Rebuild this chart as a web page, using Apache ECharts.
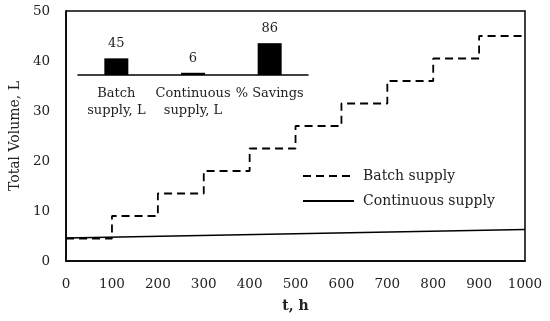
<!DOCTYPE html>
<html>
<head>
<meta charset="utf-8">
<script src="https://cdn.jsdelivr.net/npm/echarts@6/dist/echarts.min.js"></script>
<style>html,body{margin:0;padding:0;background:#fff}#c{width:550px;height:321px}</style>
</head>
<body>
<div id="c"></div>
<script>
// Main chart data
var batchT = [0, 100, 200, 300, 400, 500, 600, 700, 800, 900, 1000];
var batchV = [4.5, 9.0, 13.5, 18.0, 22.5, 27.0, 31.5, 36.0, 40.5, 45.0, 45.0];
var contT = [0, 1000];
var contV = [4.6, 6.3];
// Inset bar data
var insetCats = ['Batch\nsupply, L', 'Continuous\nsupply, L', '% Savings'];
var insetVals = [45, 6, 86];
var xTicks = [0, 100, 200, 300, 400, 500, 600, 700, 800, 900, 1000];
var yTicks = [0, 10, 20, 30, 40, 50];

var FONT = 'DejaVu Serif';
var TXT = '#222';
function pairs(a, b) { return a.map(function (v, i) { return [v, b[i]]; }); }
function plain(v) { return String(v); }

var chart = echarts.init(document.getElementById('c'), null, {renderer: 'canvas'});
chart.setOption({
  animation: false,
  textStyle: {fontFamily: FONT, color: TXT},
  grid: [
    {left: 62, right: 25, top: 11, bottom: 60, show: true, borderColor: '#000', borderWidth: 1.5, backgroundColor: 'transparent'},
    {left: 78, width: 230, top: 38, height: 37}
  ],
  xAxis: [
    {type: 'value', gridIndex: 0, min: xTicks[0], max: xTicks[xTicks.length - 1], interval: 100,
     name: 't, h', nameLocation: 'middle', nameGap: 38,
     nameTextStyle: {fontFamily: FONT, fontWeight: 'bold', fontSize: 14, color: TXT},
     axisLine: {show: true, lineStyle: {color: '#000', width: 1.5}},
     axisTick: {show: false}, splitLine: {show: false},
     axisLabel: {fontFamily: FONT, fontSize: 13.5, color: TXT, margin: 16, formatter: plain}},
    {type: 'category', gridIndex: 1, data: insetCats,
     axisLine: {show: true, lineStyle: {color: '#000', width: 1.5}},
     axisTick: {show: false},
     axisLabel: {fontFamily: FONT, fontSize: 13, color: TXT, margin: 10, lineHeight: 17, interval: 0, verticalAlign: 'top'}}
  ],
  yAxis: [
    {type: 'value', gridIndex: 0, min: yTicks[0], max: yTicks[yTicks.length - 1], interval: 10,
     name: 'Total Volume, L', nameLocation: 'middle', nameGap: 44,
     nameTextStyle: {fontFamily: FONT, fontSize: 14, color: TXT},
     axisLine: {show: true, lineStyle: {color: '#000', width: 1.5}},
     axisTick: {show: false}, splitLine: {show: false},
     axisLabel: {fontFamily: FONT, fontSize: 13.5, color: TXT, margin: 16, formatter: plain}},
    {type: 'value', gridIndex: 1, min: 0, max: 100, show: false, splitLine: {show: false}}
  ],
  legend: {
    orient: 'vertical', left: 297, top: 164, itemWidth: 51, itemHeight: 12, itemGap: 11,
    data: ['Batch supply', 'Continuous supply'],
    itemStyle: {opacity: 0},
    textStyle: {fontFamily: FONT, fontSize: 14, color: TXT, padding: [0, 0, 0, 4]}
  },
  series: [
    {name: 'Batch supply', type: 'line', xAxisIndex: 0, yAxisIndex: 0, step: 'end',
     data: pairs(batchT, batchV), symbol: 'none',
     lineStyle: {color: '#000', width: 1.8, type: [8, 5]}, itemStyle: {color: '#000'}},
    {name: 'Continuous supply', type: 'line', xAxisIndex: 0, yAxisIndex: 0,
     data: pairs(contT, contV), symbol: 'none',
     lineStyle: {color: '#000', width: 1.5}, itemStyle: {color: '#000'}},
    {name: 'inset', type: 'bar', xAxisIndex: 1, yAxisIndex: 1, data: insetVals, barWidth: 24,
     itemStyle: {color: '#000'},
     label: {show: true, position: 'top', distance: 8, fontFamily: FONT, fontSize: 13, color: TXT}}
  ]
});
</script>
</body>
</html>
